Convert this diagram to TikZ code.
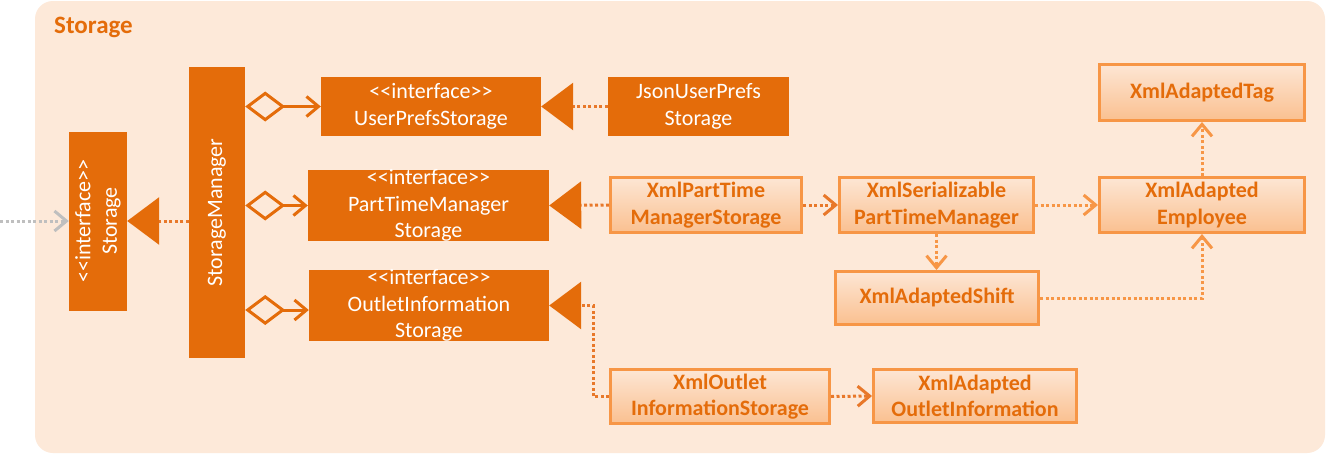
\documentclass[tikz,border=0pt]{standalone}
\usepackage{fontspec}
\setmainfont{Carlito}[Ligatures=TeXOff]
\usetikzlibrary{arrows.meta,calc}
\definecolor{bgc}{HTML}{FDE9D9}
\definecolor{dko}{HTML}{E46C0A}
\definecolor{lto}{HTML}{F79646}
\definecolor{gtop}{HTML}{FDE6D4}
\definecolor{gbot}{HTML}{FAC090}
\definecolor{dotc}{HTML}{E8782A}
\definecolor{gry}{HTML}{BFBFBF}
\begin{document}
\begin{tikzpicture}[x=1pt,y=-1pt,
 dkbox/.style={fill=dko, text=white, inner sep=0pt, align=center, font=\fontsize{22}{26.5}\selectfont},
 ltbox/.style={draw=lto, line width=3pt, top color=gtop, bottom color=gbot, text=dko, inner sep=0pt, align=center, font=\bfseries\fontsize{22}{26.5}\selectfont},
 real/.style={draw=dotc, line width=3pt, dash pattern=on 3pt off 2.5pt, -{Triangle[length=32pt,width=47pt,fill=dko,color=dko]}},
 dep/.style={draw=lto, line width=3pt, dash pattern=on 3pt off 2.5pt, -{Straight Barb[length=12pt,width=20pt]}},
 agg/.style={draw=dko, line width=3pt, {Diamond[open,length=40pt,width=30pt]}-{Straight Barb[length=12pt,width=20pt]}},
 ext/.style={draw=gry, line width=3pt, dash pattern=on 3pt off 2.5pt, -{Straight Barb[length=12pt,width=20pt]}},
]
\useasboundingbox (0,0) rectangle (1326,455);
\fill[white] (0,0) rectangle (1326,455);
\fill[bgc, rounded corners=18pt] (35,1) rectangle (1325,453);
\node[anchor=base west, text=dko, font=\bfseries\fontsize{25}{28}\selectfont, inner sep=0pt] (title) at (54,34) {Storage};

\node[dkbox, rotate=90, minimum width=179pt, minimum height=58pt] (stor) at (98,221) {<<interface>>\\Storage};
\node[dkbox, rotate=90, minimum width=291pt, minimum height=56pt] (mgr) at (217,212.5) {StorageManager};
\node[dkbox, minimum width=220pt, minimum height=59pt] (ups) at (431,106.5) {<<interface>>\\UserPrefsStorage};
\node[dkbox, minimum width=181pt, minimum height=59pt] (json) at (698.5,106.5) {JsonUserPrefs\\Storage};
\node[dkbox, minimum width=241pt, minimum height=71pt] (ptms) at (428.5,205.5) {<<interface>>\\PartTimeManager\\Storage};
\node[dkbox, minimum width=240pt, minimum height=71pt] (ois) at (429,305.5) {<<interface>>\\OutletInformation\\Storage};

\node[ltbox, minimum width=191pt, minimum height=55pt] (xptms) at (706,205) {XmlPartTime\\ManagerStorage};
\node[ltbox, minimum width=194pt, minimum height=55pt] (xspt) at (936.5,205) {XmlSerializable\\PartTimeManager};
\node[ltbox, minimum width=205pt, minimum height=55pt] (xemp) at (1202,205) {XmlAdapted\\Employee};
\node[ltbox, minimum width=205pt, minimum height=56pt] (xtag) at (1202,92.5) {XmlAdaptedTag};
\node[ltbox, minimum width=203pt, minimum height=53pt] (xshift) at (937,298) {XmlAdaptedShift};
\node[ltbox, minimum width=219pt, minimum height=54pt] (xois) at (720,396.5) {XmlOutlet\\InformationStorage};
\node[ltbox, minimum width=203pt, minimum height=53pt] (xaoi) at (975,396) {XmlAdapted\\OutletInformation};

\coordinate (extin) at (0,221);
\draw[ext] (extin) -- (stor.north);
\draw[real] (mgr.north |- stor.south) -- (stor.south);
\draw[agg] (mgr.south |- ups.west) -- (ups.west);
\draw[agg] (mgr.south |- ptms.west) -- (ptms.west);
\draw[agg] ($(mgr.south |- ois.west)+(0,4.5)$) -- ($(ois.west)+(0,4.5)$);
\draw[real] (json.west) -- (ups.east);
\draw[real] (xptms.west) -- (ptms.east);
\draw[real] (xois.west) -- ++(-16,0) |- (ois.east);
\draw[dep, draw=dotc] (xptms.east) -- (xspt.west);
\draw[dep] (xspt.east) -- (xemp.west);
\draw[dep] (xemp.north) -- (xtag.south);
\draw[dep] (xspt.south) -- (xspt.south |- xshift.north);
\draw[dep] (xshift.east) -| (xemp.south);
\draw[dep, draw=dotc] (xois.east) -- (xaoi.west);
\end{tikzpicture}
\end{document}
